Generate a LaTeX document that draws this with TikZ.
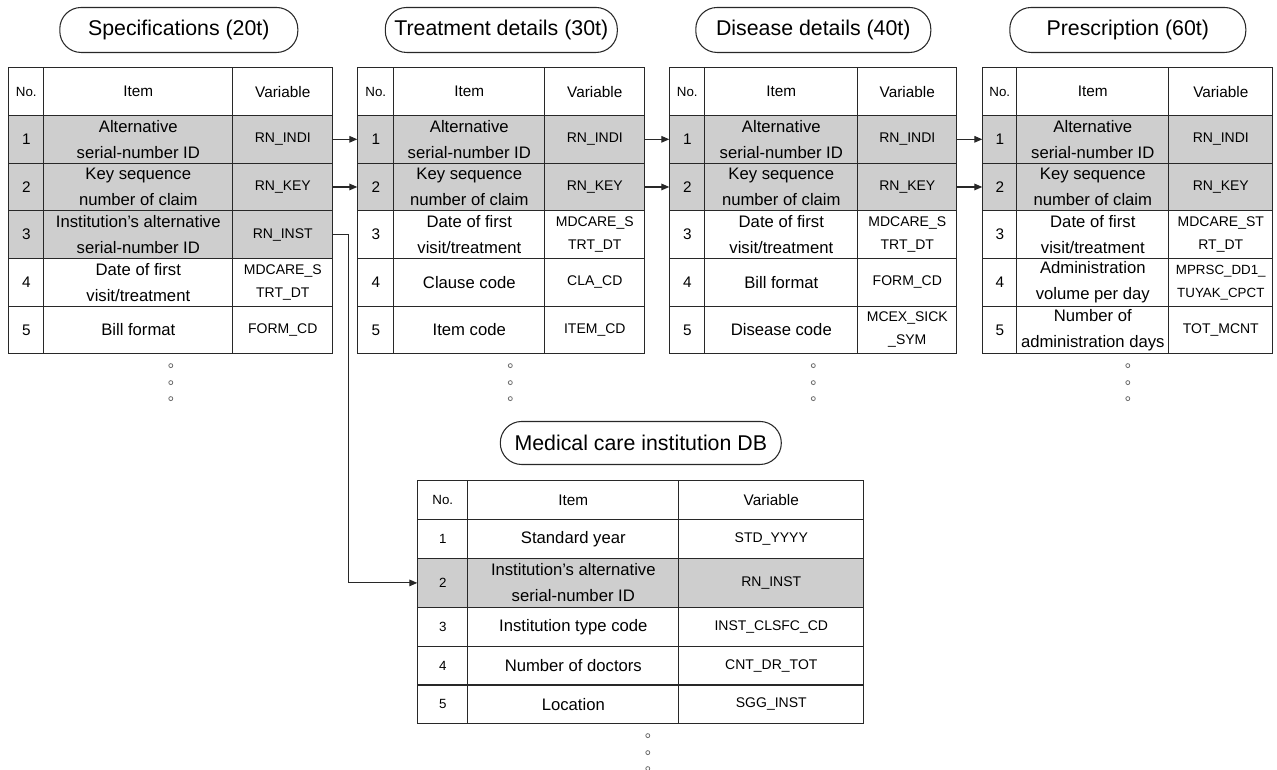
\documentclass[tikz,border=0pt]{standalone}
\usepackage{fontspec}
\setmainfont{Liberation Sans}
\usetikzlibrary{arrows.meta,positioning,matrix}
\definecolor{keygray}{RGB}{206,206,206}
\definecolor{linegray}{RGB}{40,40,40}
\definecolor{dotgray}{RGB}{110,110,110}
\newcommand{\nofont}{\fontsize{10}{12}\selectfont}
\newcommand{\numfont}{\fontsize{11.5}{14}\selectfont}
\newcommand{\headfont}{\fontsize{11.5}{14}\selectfont}
\newcommand{\itemfont}{\fontsize{12.5}{19.5}\selectfont}
\newcommand{\varfont}{\fontsize{10.5}{17.25}\selectfont}
\newcommand{\titlefont}{\fontsize{16}{19}\selectfont}
\newcommand{\twoline}[2]{\vbox{\halign{\hfil##\hfil\cr#1\cr#2\cr}}}
\tikzset{
  dbtitle/.style={draw=linegray, line width=0.8pt, rounded corners=16pt,
                  minimum height=33.75pt, inner sep=0pt, font=\titlefont},
  dbtable/.style n args={3}{matrix of nodes, nodes in empty cells, inner sep=0pt,
                  column sep=-0.8pt, row sep=-0.8pt, anchor=north west,
                  nodes={draw=linegray, line width=0.8pt, inner sep=1pt,
                         anchor=center, minimum height=35.75pt},
                  column 1/.style={nodes={minimum width=#1, font=\numfont}},
                  column 2/.style={nodes={minimum width=#2, font=\itemfont}},
                  column 3/.style={nodes={minimum width=#3, font=\varfont}},
                  row 1/.style={nodes={font=\headfont}}},
  keyrow/.style={row #1/.style={nodes={fill=keygray}}},
  keyarrow/.style={-{Triangle[length=6pt,width=5pt]}, line width=0.8pt, linegray},
  vdot/.style={draw=dotgray, fill=white, line width=0.6pt},
}

\begin{document}
\begin{tikzpicture}[x=0.75pt,y=-0.75pt]
  \useasboundingbox (0,0) rectangle (1277,769);

  % claim tables
  \matrix (spec) [dbtable={26.25pt}{141.75pt}{75pt}, keyrow/.list={2,3,4}] at (8,67) {
    |[font=\nofont]| No. & Item & Variable \\
    1 & \twoline{Alternative}{serial-number ID} & RN\_INDI \\
    2 & \twoline{Key sequence}{number of claim} & RN\_KEY \\
    3 & \twoline{Institution’s alternative}{serial-number ID} & RN\_INST \\
    4 & \twoline{Date of first}{visit/treatment} & \twoline{MDCARE\_S}{TRT\_DT} \\
    5 & Bill format & FORM\_CD \\
  };
  \matrix (treat) [dbtable={27pt}{113.25pt}{75pt}, keyrow/.list={2,3}] at (357,67) {
    |[font=\nofont]| No. & Item & Variable \\
    1 & \twoline{Alternative}{serial-number ID} & RN\_INDI \\
    2 & \twoline{Key sequence}{number of claim} & RN\_KEY \\
    3 & \twoline{Date of first}{visit/treatment} & \twoline{MDCARE\_S}{TRT\_DT} \\
    4 & Clause code & CLA\_CD \\
    5 & Item code & ITEM\_CD \\
  };
  \matrix (dis) [dbtable={26.25pt}{114.75pt}{74.25pt}, keyrow/.list={2,3}] at (669,67) {
    |[font=\nofont]| No. & Item & Variable \\
    1 & \twoline{Alternative}{serial-number ID} & RN\_INDI \\
    2 & \twoline{Key sequence}{number of claim} & RN\_KEY \\
    3 & \twoline{Date of first}{visit/treatment} & \twoline{MDCARE\_S}{TRT\_DT} \\
    4 & Bill format & FORM\_CD \\
    5 & Disease code & \twoline{MCEX\_SICK}{\_SYM} \\
  };
  \matrix (presc) [dbtable={25.5pt}{114pt}{78pt}, keyrow/.list={2,3}] at (982,67) {
    |[font=\nofont]| No. & Item & Variable \\
    1 & \twoline{Alternative}{serial-number ID} & RN\_INDI \\
    2 & \twoline{Key sequence}{number of claim} & RN\_KEY \\
    3 & \twoline{Date of first}{visit/treatment} & \twoline{MDCARE\_ST}{RT\_DT} \\
    4 & \twoline{Administration}{volume per day} & |[font=\fontsize{10}{17.25}\selectfont]| \twoline{MPRSC\_DD1\_}{TUYAK\_CPCT} \\
    5 & \twoline{Number of}{administration days} & TOT\_MCNT \\
  };

  % institution table
  \matrix (inst) [dbtable={37.5pt}{158.25pt}{138.75pt}, nodes={minimum height=29.1pt},
      column 1/.append style={nodes={font=\nofont}},
      row 3/.style={nodes={fill=keygray, minimum height=36.75pt}}] at (417,480) {
    |[font=\nofont]| No. & Item & Variable \\
    1 & Standard year & STD\_YYYY \\
    2 & \twoline{Institution’s alternative}{serial-number ID} & RN\_INST \\
    3 & Institution type code & INST\_CLSFC\_CD \\
    4 & Number of doctors & CNT\_DR\_TOT \\
    5 & Location & SGG\_INST \\
  };

  % titles
  \node[dbtitle, minimum width=178.5pt, above=10.5pt of spec, xshift=6pt] (spectitle) {Specifications (20t)};
  \node[dbtitle, minimum width=174pt, above=10.5pt of treat] (treattitle) {Treatment details (30t)};
  \node[dbtitle, minimum width=176.25pt, above=10.5pt of dis] (distitle) {Disease details (40t)};
  \node[dbtitle, minimum width=177pt, above=10.5pt of presc] (presctitle) {Prescription (60t)};
  \node[dbtitle, minimum width=210.75pt, minimum height=32.25pt, above=11.25pt of inst] (insttitle) {Medical care institution DB};

  % key links
  \draw[keyarrow] (spec-2-3.east) -- (treat-2-1.west);
  \draw[keyarrow] (spec-3-3.east) -- (treat-3-1.west);
  \draw[keyarrow] (treat-2-3.east) -- (dis-2-1.west);
  \draw[keyarrow] (treat-3-3.east) -- (dis-3-1.west);
  \draw[keyarrow] (dis-2-3.east) -- (presc-2-1.west);
  \draw[keyarrow] (dis-3-3.east) -- (presc-3-1.west);
  \draw[keyarrow] (spec-4-3.east) -- ++(15,0) |- (inst-3-1.west);

  % more rows
  \foreach \t/\dx in {spec/0, treat/9, dis/0, presc/0, inst/7}
    \foreach \dy in {11,28,44}
      \draw[vdot] (\t.south) ++(\dx,\dy) circle[radius=1.5pt];
\end{tikzpicture}
\end{document}
